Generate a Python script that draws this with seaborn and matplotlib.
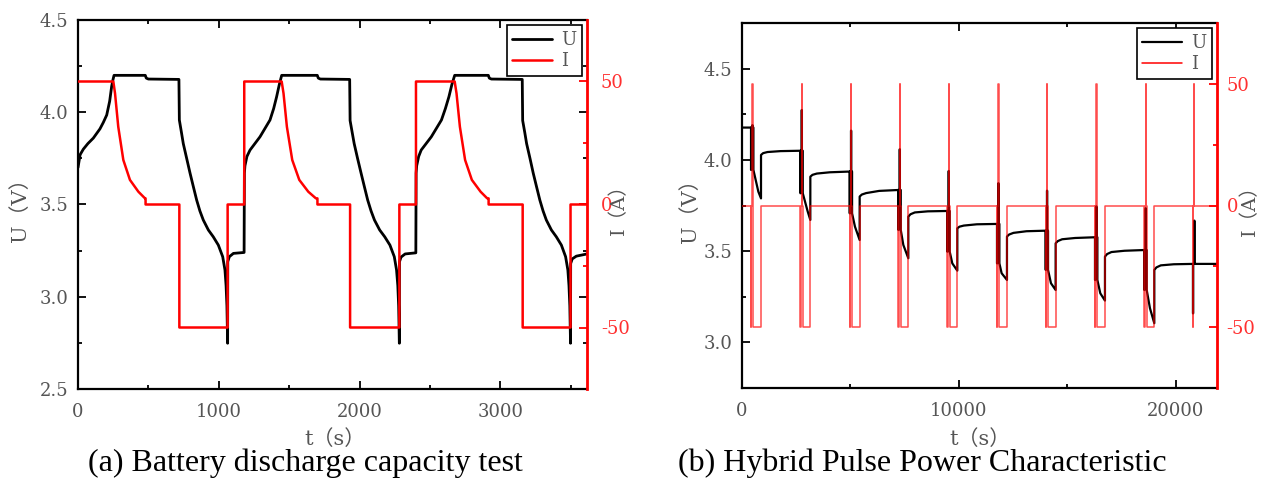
import numpy as np
import pandas as pd
import seaborn as sns
import matplotlib.pyplot as plt
from matplotlib.ticker import MultipleLocator, FixedLocator


# (a) capacity test: voltage samples
cap_u_t = [0, 15, 38, 70, 109, 156, 180, 204, 225, 239, 248, 256, 478, 485, 500, 717,
           720, 735, 748, 772, 796, 820, 843, 866, 890, 926, 961, 997, 1028, 1044, 1052, 1058, 1063,
           1064, 1075, 1104, 1180,
           1182, 1186, 1200, 1222, 1293, 1364, 1390, 1411, 1430, 1447,
           1700, 1707, 1722, 1930,
           1933, 1948, 1962, 1986, 2011, 2035, 2058, 2082, 2106, 2143, 2179, 2216, 2247, 2263, 2272, 2278, 2283,
           2284, 2295, 2324, 2400,
           2402, 2406, 2420, 2438, 2510, 2582, 2610, 2635, 2656, 2676,
           2915, 2922, 2937, 3156,
           3159, 3174, 3187, 3211, 3234, 3258, 3281, 3304, 3327, 3363, 3398, 3434, 3464, 3480, 3488, 3494, 3499,
           3500, 3511, 3540, 3616]
cap_u = [3.70, 3.77, 3.80, 3.83, 3.86, 3.91, 3.945, 3.985, 4.06, 4.14, 4.175, 4.20, 4.20, 4.185, 4.18, 4.178,
         3.958, 3.89, 3.83, 3.75, 3.67, 3.595, 3.524, 3.465, 3.416, 3.362, 3.325, 3.28, 3.217, 3.145, 3.06, 2.95, 2.748,
         3.19, 3.217, 3.235, 3.24,
         3.67, 3.71, 3.76, 3.795, 3.867, 3.958, 4.02, 4.084, 4.15, 4.20,
         4.20, 4.185, 4.18, 4.178,
         3.955, 3.89, 3.83, 3.75, 3.67, 3.595, 3.524, 3.465, 3.416, 3.362, 3.325, 3.28, 3.217, 3.145, 3.06, 2.95, 2.748,
         3.19, 3.215, 3.232, 3.238,
         3.67, 3.71, 3.76, 3.795, 3.867, 3.958, 4.02, 4.084, 4.15, 4.20,
         4.20, 4.185, 4.18, 4.178,
         3.955, 3.89, 3.83, 3.75, 3.67, 3.595, 3.524, 3.465, 3.416, 3.362, 3.325, 3.28, 3.217, 3.145, 3.06, 2.95, 2.748,
         3.18, 3.205, 3.22, 3.232]

# (a) current samples (CC charge, CV taper, rest, discharge)
cap_i_t = [0, 251, 263, 286, 322, 369, 429, 476, 480, 480, 720, 720, 1063, 1063, 1181, 1181,
           1447, 1460, 1484, 1522, 1572, 1636, 1690, 1701, 1701, 1933, 1933, 2283, 2283, 2401, 2401,
           2676, 2689, 2713, 2750, 2798, 2860, 2907, 2917, 2917, 3159, 3159, 3499, 3499, 3616]
cap_i = [50, 50, 45.2, 31.6, 18.1, 10, 5.2, 2.5, 2.5, 0, 0, -50, -50, 0, 0, 50,
         50, 45.2, 31.6, 18.1, 10, 5.2, 2.5, 2.5, 0, 0, -50, -50, 0, 0, 50,
         50, 45.2, 31.6, 18.1, 10, 5.2, 2.5, 2.5, 0, 0, -50, -50, 0, 0]

# (b) HPPC: one entry per pulse group
hppc_pulse_t = [476, 2752, 5025, 7270, 9527, 11817, 14060, 16335, 18609, 20851]
hppc_block_mid_t = [753, 3027, 5209, 7438, 9696, 11970, 14245, 16519, 18809]
hppc_block_end = [876, 3150, 5424, 7668, 9927, 12216, 14460, 16734, 19009]
hppc_u_ocv = [4.177, 4.050, 3.936, 3.835, 3.720, 3.649, 3.612, 3.576, 3.506, 3.430]
hppc_u_dis = [3.945, 3.817, 3.707, 3.616, 3.497, 3.433, 3.397, 3.342, 3.287, 3.159]
hppc_u_chg = [4.19, 4.273, 4.160, 4.058, 3.939, 3.872, 3.831, 3.745, 3.735, 3.667]
hppc_u_mid = [3.826, 3.718, 3.634, 3.534, 3.433, 3.379, 3.324, 3.269, 3.187]
hppc_u_end = [3.789, 3.671, 3.561, 3.461, 3.393, 3.342, 3.287, 3.229, 3.105]
# rest after each block: jump, then relaxation readings
hppc_u_rest0 = [4.027, 3.908, 3.799, 3.689, 3.625, 3.580, 3.543, 3.470, 3.397]
hppc_u_knee0 = [4.037, 3.918, 3.810, 3.702, 3.634, 3.591, 3.555, 3.484, 3.411]
hppc_u_knee = [4.043, 3.925, 3.818, 3.712, 3.640, 3.600, 3.565, 3.495, 3.422]
hppc_u_knee2 = [4.048, 3.932, 3.830, 3.718, 3.647, 3.609, 3.572, 3.502, 3.428]
hppc_end_t = 21900

# protocol timing (s)
dis_lead = 60
pulse_len = 10
block_lead = 50
pulse_i = 50


def build_hppc():
    ut, uv = [0], [hppc_u_ocv[0]]
    it, iv = [0], [0]
    for k, s in enumerate(hppc_pulse_t):
        ocv = hppc_u_ocv[k]
        ut += [s - dis_lead, s - dis_lead, s - dis_lead + pulse_len, s - dis_lead + pulse_len,
               s, s, s + pulse_len, s + pulse_len]
        uv += [ocv, hppc_u_dis[k], hppc_u_dis[k], ocv, ocv, hppc_u_chg[k], hppc_u_chg[k], ocv]
        it += [s - dis_lead, s - dis_lead, s - dis_lead + pulse_len, s - dis_lead + pulse_len,
               s, s, s + pulse_len, s + pulse_len]
        iv += [0, -pulse_i, -pulse_i, 0, 0, pulse_i, pulse_i, 0]
        if k < len(hppc_block_end):
            e = hppc_block_end[k]
            nxt = hppc_pulse_t[k + 1]
            ut += [s + block_lead, s + block_lead, hppc_block_mid_t[k], e, e + 1,
                   e + 100, e + 300, e + 900, nxt - dis_lead]
            uv += [ocv, hppc_u_dis[k], hppc_u_mid[k], hppc_u_end[k], hppc_u_rest0[k],
                   hppc_u_knee0[k], hppc_u_knee[k], hppc_u_knee2[k], hppc_u_ocv[k + 1]]
            it += [s + block_lead, s + block_lead, e, e]
            iv += [0, -pulse_i, -pulse_i, 0]
    ut.append(hppc_end_t)
    uv.append(hppc_u_ocv[-1])
    it.append(hppc_end_t)
    iv.append(0)
    return ut, uv, it, iv


sns.set_style("ticks")
plt.rcParams['font.family'] = ['DejaVu Serif', 'Noto Sans CJK SC']
plt.rcParams['axes.unicode_minus'] = False

GRAY = '#555555'
RED = '#ff0000'


def draw_panel(ax, u_t, u_v, i_t, i_v, xmax, xmajor, ylim, u_lw, i_lw, i_alpha, mirror, i_pad):
    sns.lineplot(x=u_t, y=u_v, ax=ax, color='black', lw=u_lw, estimator=None, sort=False,
                 label='U', legend=False)
    ax2 = ax.twinx()
    sns.lineplot(x=i_t, y=i_v, ax=ax2, color=RED, lw=i_lw, alpha=i_alpha, estimator=None,
                 sort=False, label='I', legend=False)

    ax.set_xlim(0, xmax)
    ax.set_ylim(*ylim)
    ax2.set_ylim(-75, 75)
    ax.xaxis.set_major_locator(MultipleLocator(xmajor))
    ax.xaxis.set_minor_locator(MultipleLocator(xmajor / 2))
    ax.yaxis.set_major_locator(MultipleLocator(0.5))
    ax.yaxis.set_minor_locator(MultipleLocator(0.25))
    ax.yaxis.set_major_formatter(plt.FormatStrFormatter('%.1f'))
    ax2.yaxis.set_major_locator(FixedLocator([-50, 0, 50]))
    ax2.yaxis.set_minor_locator(FixedLocator([-25, 25]))

    for side in ['left', 'bottom', 'top']:
        ax.spines[side].set_linewidth(1.6)
        ax.spines[side].set_color('black')
        ax2.spines[side].set_visible(False)
    ax.spines['right'].set_visible(False)
    ax2.spines['right'].set_color(RED)
    ax2.spines['right'].set_linewidth(2)

    ax.tick_params(which='both', direction='in', top=True, right=mirror, color='black',
                   width=1.3, labelsize=13, labelcolor=GRAY)
    ax.tick_params(which='major', length=6)
    ax.tick_params(which='minor', length=3)
    ax.tick_params(axis='x', pad=10)
    ax.tick_params(axis='y', pad=7)
    ax2.tick_params(which='both', direction='in', colors=RED, width=1.3, labelsize=13,
                    labelcolor='#ff3030', pad=i_pad)
    ax2.tick_params(which='major', length=6)
    ax2.tick_params(which='minor', length=3)

    ax.set_xlabel('t（s）', fontsize=15, color=GRAY)
    ax.set_ylabel('U（V）', fontsize=15, color=GRAY)
    ax2.set_ylabel('I（A）', fontsize=14, color=GRAY)

    leg = ax2.legend(handles=[ax.lines[0], ax2.lines[0]], labels=['U', 'I'], loc='upper right',
                     fancybox=False, edgecolor='black', framealpha=1, fontsize=13,
                     handlelength=2.2, handletextpad=0.5, borderpad=0.3, labelspacing=0.2,
                     borderaxespad=0.3, labelcolor=GRAY)
    leg.get_frame().set_linewidth(1.2)
    leg.legend_handles[1].set_alpha(1)
    return ax2


fig = plt.figure(figsize=(12.62, 4.88), dpi=100)
ax_a = fig.add_axes([78 / 1262, 1 - 389 / 488, 509 / 1262, 369 / 488])
ax_b = fig.add_axes([742 / 1262, 1 - 388 / 488, 475 / 1262, 365 / 488])

ax_a2 = draw_panel(ax_a, cap_u_t, cap_u, cap_i_t, cap_i, 3616, 1000, (2.5, 4.5),
                   2.0, 1.8, 1.0, True, 10)
h_ut, h_uv, h_it, h_iv = build_hppc()
ax_b2 = draw_panel(ax_b, h_ut, h_uv, h_it, h_iv, hppc_end_t, 10000, (2.75, 4.75),
                   1.6, 1.1, 0.7, False, 7)

# label placement
ax_a.xaxis.set_label_coords(0.505, -0.108)
ax_a.yaxis.set_label_coords(-0.094, 0.5)
ax_a2.yaxis.set_label_coords(1.045, 0.5)
ax_b.xaxis.set_label_coords(0.50, -0.113)
ax_b.yaxis.set_label_coords(-0.088, 0.5)
ax_b2.yaxis.set_label_coords(1.050, 0.5)

fig.text(305 / 1262, 1 - 471 / 488, '(a) Battery discharge capacity test', ha='center',
         va='baseline', fontsize=23, family='Liberation Serif', color='black')
fig.text(922 / 1262, 1 - 471 / 488, '(b) Hybrid Pulse Power Characteristic', ha='center',
         va='baseline', fontsize=23, family='Liberation Serif', color='black')

fig.savefig('out.png', dpi=100)
